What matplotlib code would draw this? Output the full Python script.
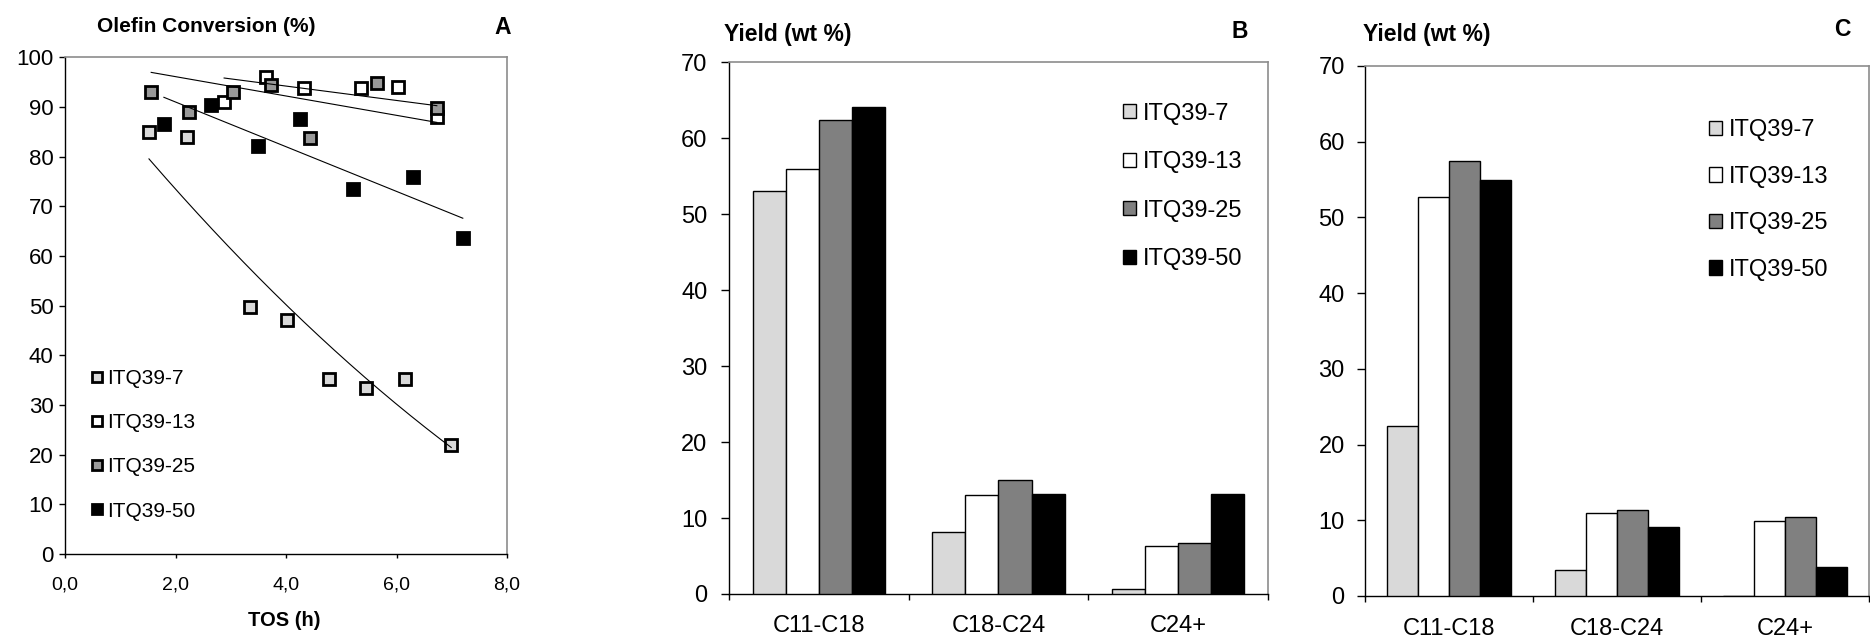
import numpy as np
import matplotlib.pyplot as plt
from matplotlib.ticker import FuncFormatter, FixedLocator

plt.rcParams['font.family'] = ['Liberation Sans', 'DejaVu Sans']

W, H = 1870, 639

series = ['ITQ39-7', 'ITQ39-13', 'ITQ39-25', 'ITQ39-50']

# panel A - olefin conversion (%) vs TOS (h)
tos_7 = [1.52, 2.21, 3.34, 4.02, 4.77, 5.45, 6.15, 6.99]
conv_7 = [84.9, 83.9, 49.8, 47.2, 35.3, 33.4, 35.3, 21.9]
tos_13 = [2.88, 3.63, 4.32, 5.36, 6.02, 6.73]
conv_13 = [90.9, 96.0, 93.8, 93.9, 94.0, 87.9]
tos_25 = [1.56, 2.25, 3.04, 3.73, 4.43, 5.64, 6.73]
conv_25 = [93.1, 88.9, 93.1, 94.4, 83.8, 94.8, 89.7]
tos_50 = [1.79, 2.65, 3.49, 4.26, 5.22, 6.29, 7.20]
conv_50 = [86.5, 90.4, 82.2, 87.5, 73.5, 76.0, 63.6]
trend_order = [2, 1, 1, 1]  # trendlines forced through 100 % at t=0

# panels B and C - yield (wt %) per fraction
fractions = ['C11-C18', 'C18-C24', 'C24+']
yield_b_7 = [53.1, 8.2, 0.6]
yield_b_13 = [55.9, 13.0, 6.3]
yield_b_25 = [62.4, 15.0, 6.7]
yield_b_50 = [64.1, 13.2, 13.2]
yield_c_7 = [22.4, 3.4, 0.0]
yield_c_13 = [52.7, 10.9, 9.9]
yield_c_25 = [57.5, 11.3, 10.5]
yield_c_50 = [54.9, 9.1, 3.8]

marker_cols = ['#d9d9d9', 'white', '#999999', 'black']
bar_cols = ['#d9d9d9', 'white', '#808080', 'black']
grey_spine = '#8c8c8c'


def px_axes(fig, l, t, r, b):
    return fig.add_axes([l / W, 1 - b / H, (r - l) / W, (b - t) / H])


def trend(x, y, order):
    x = np.asarray(x)
    z = np.asarray(y) - 100
    A = np.column_stack([x ** k for k in range(1, order + 1)])
    coef = np.linalg.lstsq(A, z, rcond=None)[0]
    xs = np.linspace(x.min(), x.max(), 200)
    ys = 100 + sum(c * xs ** (k + 1) for k, c in enumerate(coef))
    return xs, ys


def style_spines(ax):
    for s in ['left', 'bottom']:
        ax.spines[s].set_color('black')
        ax.spines[s].set_linewidth(1.0)
    for s in ['top', 'right']:
        ax.spines[s].set_color(grey_spine)
        ax.spines[s].set_linewidth(1.2)


fig = plt.figure(figsize=(W / 100, H / 100), dpi=100)

# ---------------- A ----------------
axA = px_axes(fig, 65, 57.3, 507, 554)
xs_all = [tos_7, tos_13, tos_25, tos_50]
ys_all = [conv_7, conv_13, conv_25, conv_50]
for i in range(4):
    axA.plot(xs_all[i], ys_all[i], 's', ms=8, mfc=marker_cols[i], mec='black',
             mew=2, label=series[i], zorder=3 + i)
for i in range(4):
    tx, ty = trend(xs_all[i], ys_all[i], trend_order[i])
    axA.plot(tx, ty, color='black', lw=0.8, zorder=10)
axA.set_xlim(0, 8)
axA.set_ylim(0, 100)
axA.set_xticks(np.arange(0, 8.1, 2))
axA.set_yticks(np.arange(0, 101, 10))
axA.xaxis.set_major_formatter(FuncFormatter(lambda v, p: f'{v:.1f}'.replace('.', ',')))
axA.tick_params(axis='y', direction='out', length=4.3, width=1, pad=4, labelsize=16)
axA.tick_params(axis='x', direction='out', length=3.2, width=1, pad=13, labelsize=14)
style_spines(axA)
axA.legend(loc='upper left', bbox_to_anchor=(89.5 / W, 1 - 368.9 / H),
           bbox_transform=fig.transFigure, frameon=False, fontsize=15,
           borderpad=0, borderaxespad=0, handlelength=0.75, handletextpad=0.1,
           labelspacing=1.21, numpoints=1, markerscale=0.82)

fig.text(206.5 / W, 1 - 26 / H, 'Olefin Conversion (%)', ha='center', va='center',
         fontsize=15, fontweight='bold')
fig.text(503 / W, 1 - 28 / H, 'A', ha='center', va='center', fontsize=16.5, fontweight='bold')
fig.text(284 / W, 1 - 620 / H, 'TOS (h)', ha='center', va='center', fontsize=14.5,
         fontweight='bold')


# ---------------- B / C ----------------
def bar_panel(ax, vals, ypad, xpad, leg_left, leg_top, leg_space):
    x = np.arange(len(fractions))
    w = 0.184
    for i, v in enumerate(vals):
        ax.bar(x + (i - 1.5) * w, v, width=w, color=bar_cols[i], edgecolor='black',
               linewidth=1.0, label=series[i], zorder=3)
    ax.set_xlim(-0.5, 2.5)
    ax.set_ylim(0, 70)
    ax.set_yticks(np.arange(0, 71, 10))
    ax.xaxis.set_major_locator(FixedLocator([-0.5, 0.5, 1.5, 2.5]))
    ax.xaxis.set_major_formatter(FuncFormatter(lambda v, p: ''))
    ax.xaxis.set_minor_locator(FixedLocator(x))
    ax.set_xticklabels(fractions, minor=True)
    ax.tick_params(axis='x', which='major', direction='out', length=4.5, width=1)
    ax.tick_params(axis='x', which='minor', length=0, pad=xpad, labelsize=17)
    ax.tick_params(axis='y', direction='out', length=5.6, width=1, pad=ypad, labelsize=17)
    style_spines(ax)
    ax.legend(loc='upper left', bbox_to_anchor=(leg_left / W, 1 - leg_top / H),
              bbox_transform=fig.transFigure, frameon=False, fontsize=17,
              borderpad=0, borderaxespad=0, handlelength=0.55, handleheight=0.55,
              handletextpad=0.3, labelspacing=leg_space)


axB = px_axes(fig, 729, 62.3, 1268, 594)
bar_panel(axB, [yield_b_7, yield_b_13, yield_b_25, yield_b_50], 10, 15,
          1123, 102.7, 1.12)
fig.text(787.5 / W, 1 - 35 / H, 'Yield (wt %)', ha='center', va='center',
         fontsize=16.5, fontweight='bold')
fig.text(1240 / W, 1 - 31 / H, 'B', ha='center', va='center', fontsize=16.5, fontweight='bold')

axC = px_axes(fig, 1365, 66, 1869, 596)
bar_panel(axC, [yield_c_7, yield_c_13, yield_c_25, yield_c_50], 9, 15.8,
          1709.3, 119.2, 1.04)
fig.text(1427 / W, 1 - 34 / H, 'Yield (wt %)', ha='center', va='center',
         fontsize=16.5, fontweight='bold')
fig.text(1842 / W, 1 - 29 / H, 'C', ha='center', va='center', fontsize=16.5, fontweight='bold')

fig.savefig('out.png', dpi=100)
